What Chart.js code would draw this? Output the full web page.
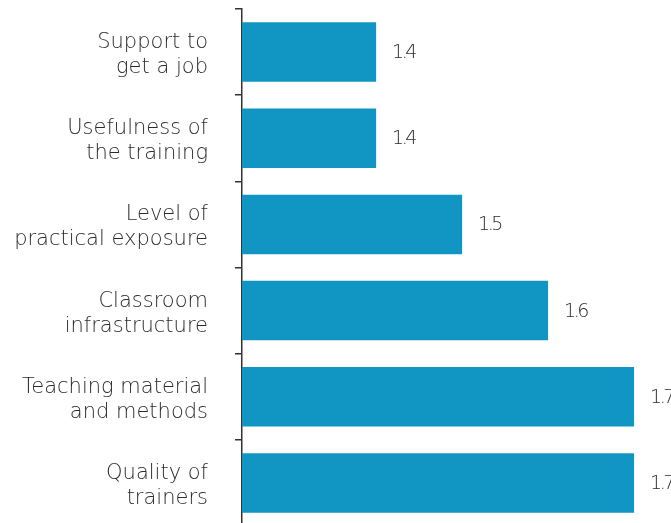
<!DOCTYPE html>
<html>
<head>
<meta charset="utf-8">
<script src="https://cdn.jsdelivr.net/npm/chart.js@4"></script>
<style>
  html, body { margin: 0; padding: 0; background: #fff; overflow: hidden; }
  #wrap { width: 700px; height: 526px; }
</style>
</head>
<body>
<div id="wrap"><canvas id="grafik" width="700" height="526"></canvas></div>
<script>
// data from the picture
const kategori = [
    ['Support to', 'get a job'],
    ['Usefulness of', 'the training'],
    ['Level of', 'practical exposure'],
    ['Classroom', 'infrastructure'],
    ['Teaching material', 'and methods'],
    ['Quality of', 'trainers']
];
const nilai = [1.4, 1.4, 1.5, 1.6, 1.7, 1.7];
const labelNilai = ['1.4', '1.4', '1.5', '1.6', '1.7', '1.7'];

const warnaTeks = '#2b2b2b';
const fontUtama = "'DejaVu Sans', sans-serif";

// label angka di ujung batang
const labelBatang = {
    id: 'labelBatang',
    afterDatasetsDraw(chart) {
        const ctx = chart.ctx;
        const meta = chart.getDatasetMeta(0);
        ctx.save();
        ctx.font = '300 19px ' + fontUtama;
        ctx.fillStyle = warnaTeks;
        ctx.textAlign = 'left';
        ctx.textBaseline = 'middle';
        if ('letterSpacing' in ctx) ctx.letterSpacing = '-2.5px';
        meta.data.forEach((bar, i) => {
            ctx.fillText(labelNilai[i], bar.x + 16, bar.y + 1);
        });
        ctx.restore();
    }
};

const ctx = document.getElementById('grafik').getContext('2d');
new Chart(ctx, {
    type: 'bar',
    data: {
        labels: kategori,
        datasets: [{
            data: nilai,
            backgroundColor: '#1196c4',
            borderWidth: 0,
            barPercentage: 0.69,
            categoryPercentage: 1
        }]
    },
    options: {
        indexAxis: 'y',
        responsive: false,
        animation: false,
        layout: { padding: { top: 9, right: 0, bottom: 0, left: 0 } },
        plugins: {
            legend: { display: false },
            tooltip: { enabled: false }
        },
        scales: {
            x: {
                display: false,
                min: 1.244,
                max: 1.7767
            },
            y: {
                afterFit(scale) {
                    scale.width = 242;
                    scale.paddingTop = 0;
                    scale.paddingBottom = 0;
                },
                grid: {
                    offset: true,
                    drawOnChartArea: false,
                    drawTicks: true,
                    tickLength: 7,
                    color: '#333333',
                    lineWidth: 1.5
                },
                border: { display: true, color: '#333333', width: 1.5 },
                ticks: {
                    color: warnaTeks,
                    padding: 27,
                    labelOffset: 3,
                    font: { family: fontUtama, size: 21, weight: '300', lineHeight: 1.19 }
                }
            }
        }
    },
    plugins: [labelBatang]
});
</script>
</body>
</html>
